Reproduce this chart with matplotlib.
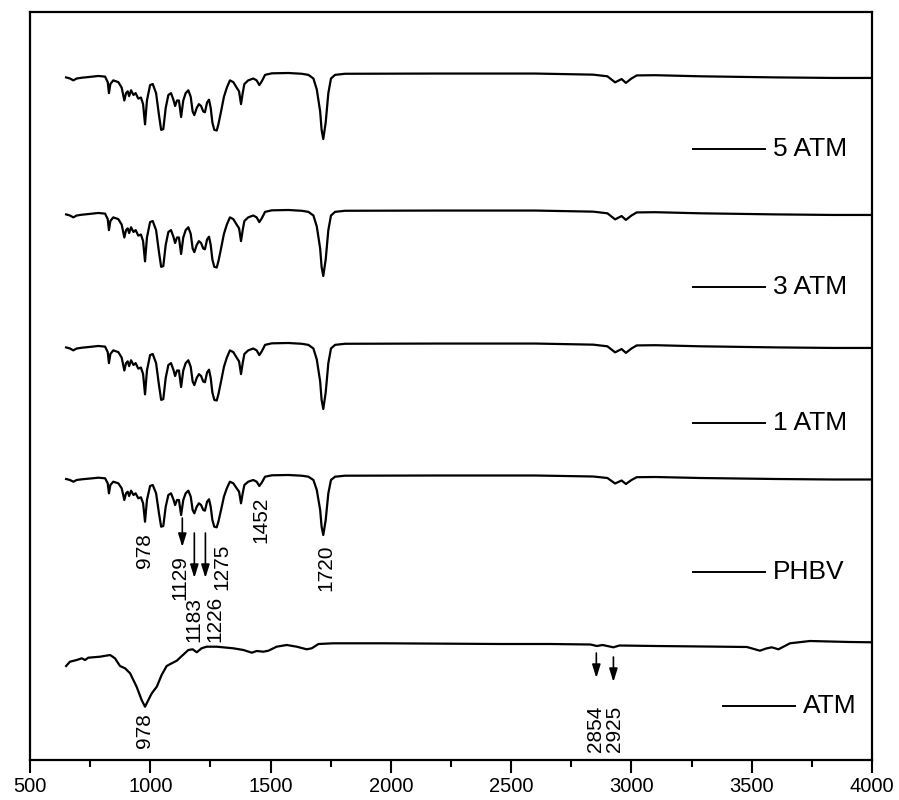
import numpy as np
import matplotlib
matplotlib.use('Agg')
import matplotlib.pyplot as plt

plt.rcParams['font.family'] = ['Liberation Sans', 'DejaVu Sans']

# PHBV-type spectrum (wavenumber, cm-1) and relative transmittance (a.u.)
phbv_wn = [650, 666, 680, 694, 715, 742, 784, 812, 823, 828, 834, 846, 867, 881,
           892, 899, 906, 912, 920, 930, 939, 950, 961, 970, 978, 986, 999, 1010,
           1024, 1036, 1045, 1054, 1064, 1075, 1086, 1096, 1103, 1111, 1119, 1128,
           1137, 1147, 1158, 1168, 1176, 1183, 1193, 1202, 1211, 1220, 1227, 1236,
           1244, 1251, 1258, 1266, 1276, 1283, 1294, 1306, 1318, 1331, 1345, 1359,
           1369, 1377, 1384, 1391, 1407, 1428, 1442, 1453, 1463, 1477, 1505, 1574,
           1629, 1657, 1678, 1692, 1706, 1712, 1719, 1729, 1740, 1751, 1768, 1809,
           2200, 2600, 2841, 2900, 2932, 2959, 2977, 3000, 3022, 3100, 3285, 3600,
           3838, 4000]
phbv_t = [-4, -5, -6.7, -5, -4.3, -3.7, -2.7, -3.3, -8.3, -18.3, -10, -6.7, -8.3, -13.3,
          -25, -18.3, -16.7, -21, -15.7, -20, -18.3, -23.3, -22.3, -28.3, -46.7, -25, -11, -10,
          -18.3, -38.3, -51.7, -51, -31.7, -20, -18.3, -24.3, -30, -25, -25, -40,
          -25, -18.3, -15.7, -21.7, -35, -38.3, -31.7, -28.3, -30, -35, -35.7, -26.7,
          -24.3, -31.7, -45, -51.7, -52.3, -46.7, -35, -21.7, -13.3, -6.7, -8.3, -13.3,
          -16.7, -28.3, -18.3, -10, -6.7, -5, -6.7, -11, -7.7, -1.7, -0.3, 0,
          -0.7, -1.7, -5, -15, -35, -51.7, -60, -45, -18.3, -5, -1.7, -0.7,
          -0.5, -0.5, -1.5, -3, -8.5, -5.5, -9, -5, -2.2, -2, -3, -4,
          -4.5, -4.5]

# ATM spectrum
atm_wn = [650, 666, 694, 715, 729, 742, 791, 833, 853, 874, 895, 916, 943, 964, 978,
          992, 1006, 1027, 1047, 1068, 1089, 1110, 1131, 1158, 1176, 1193, 1213, 1234,
          1276, 1345, 1387, 1422, 1442, 1470, 1491, 1525, 1567, 1609, 1650, 1671, 1699,
          1761, 1969, 2454, 2661, 2830, 2856, 2880, 2925, 2950, 3100, 3300, 3480, 3534,
          3560, 3583, 3611, 3659, 3742, 3908, 4000]
atm_t = [-23, -18.7, -17, -15.3, -17, -14.7, -13.7, -12, -15.3, -23, -25.3, -30.3, -43.7, -57, -63.7,
         -57, -50.3, -43.7, -32, -23, -20.3, -17.7, -13, -7, -6.3, -9.3, -5.3, -3.7,
         -3.7, -5.3, -7, -9.7, -8, -8.7, -7.7, -3.7, -2, -3.7, -6.3, -5.3, -1,
         -0.3, -0.3, -1, -1, -1.5, -3, -2, -4.3, -2.5, -3, -3.5, -4, -7.7,
         -5.5, -4.3, -6.3, -0.3, 2, 1, 0.7]

sample_names = ['5 ATM', '3 ATM', '1 ATM', 'PHBV']
sample_offsets = [402, 265, 132, 0]
sample_scales = [1.1, 1.1, 1.1, 1.0]
atm_offset = -168

label_y = [326, 188, 52, -97]

fig = plt.figure(figsize=(8.99, 8.0), dpi=100)
ax = fig.add_axes([0.0334, 0.05, 0.9366, 0.935])

phbv_wn_arr = np.array(phbv_wn)
phbv_t_arr = np.array(phbv_t)
for name, off, sc, ly in zip(sample_names, sample_offsets, sample_scales, label_y):
    ax.plot(phbv_wn_arr, phbv_t_arr * sc + off, color='k', lw=1.6)
    ax.plot([3256, 3555], [ly, ly], color='k', lw=1.4)
    ax.text(3589, ly, name, fontsize=19, va='center', ha='left')

ax.plot(atm_wn, np.array(atm_t) + atm_offset, color='k', lw=1.6)
ax.plot([3381, 3680], [-231, -231], color='k', lw=1.4)
ax.text(3713, -231, 'ATM', fontsize=19, va='center', ha='left')

# peak labels
peak_labels = [('978', 974, -76), ('1129', 1124, -103), ('1183', 1180, -144),
               ('1226', 1269, -144), ('1275', 1298, -92), ('1452', 1460, -45),
               ('1720', 1730, -93), ('978', 974, -256), ('2854', 2852, -254),
               ('2925', 2929, -254)]
for txt, x, y in peak_labels:
    ax.text(x, y, txt, rotation=90, fontsize=15, ha='center', va='center')

arrows = [(1133, -43, -72), (1183, -58, -103), (1229, -58, -103),
          (2854, -178, -203), (2925, -182, -207)]
for x, y0, y1 in arrows:
    ax.annotate('', xy=(x, y1), xytext=(x, y0),
                arrowprops=dict(arrowstyle='-|>,head_length=0.8,head_width=0.25',
                                color='k', lw=1.2, shrinkA=0, shrinkB=0))

ax.set_xlim(500, 4000)
ax.set_ylim(-285, 463)
ax.set_xticks(np.arange(500, 4001, 500))
ax.set_xticks(np.arange(750, 4000, 500), minor=True)
ax.set_yticks([])
ax.tick_params(axis='x', which='major', direction='out', length=9, width=1.5,
               labelsize=14.5, pad=3)
ax.tick_params(axis='x', which='minor', direction='out', length=5, width=1.5)
for s in ax.spines.values():
    s.set_linewidth(1.6)

fig.savefig('out.png', dpi=100)
